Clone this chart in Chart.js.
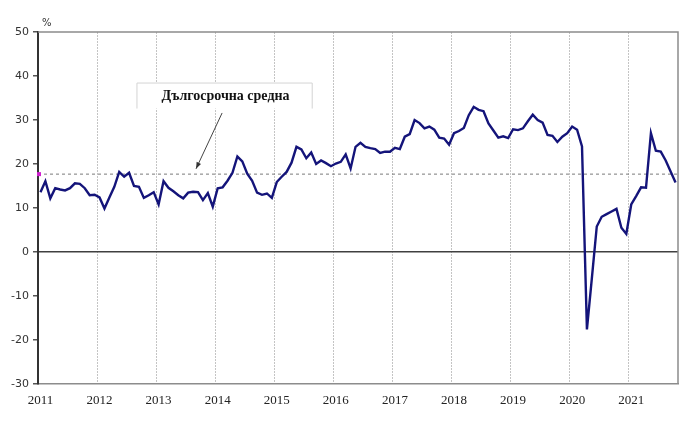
<!DOCTYPE html>
<html>
<head>
<meta charset="utf-8">
<script src="https://cdn.jsdelivr.net/npm/chart.js@4"></script>
<style>
  html, body { margin: 0; padding: 0; background: #fff; }
  #wrap { width: 700px; height: 425px; }
</style>
</head>
<body>
<div id="wrap"><canvas id="chart" width="700" height="425"></canvas></div>
<script>
const years = ["2011", "2012", "2013", "2014", "2015", "2016", "2017", "2018", "2019", "2020", "2021"];
const monthsInLastYear = 10;

// monthly values, %, Jan 2011 .. Oct 2021
const values2011 = [13.6, 16.1, 12.2, 14.5, 14.2, 14.0, 14.5, 15.6, 15.5, 14.5, 12.9, 13.0];
const values2012 = [12.4, 9.9, 12.4, 14.8, 18.2, 17.1, 18.0, 15.0, 14.8, 12.3, 12.9, 13.6];
const values2013 = [10.8, 16.1, 14.6, 13.8, 12.9, 12.2, 13.5, 13.7, 13.6, 11.8, 13.4, 10.3];
const values2014 = [14.5, 14.7, 16.2, 18.0, 21.7, 20.6, 17.8, 16.2, 13.5, 13.0, 13.3, 12.3];
const values2015 = [15.9, 17.1, 18.2, 20.3, 23.9, 23.3, 21.3, 22.6, 20.0, 20.8, 20.2, 19.5];
const values2016 = [20.1, 20.5, 22.2, 19.0, 23.9, 24.8, 23.9, 23.6, 23.4, 22.5, 22.8, 22.8];
const values2017 = [23.7, 23.4, 26.2, 26.8, 30.0, 29.3, 28.1, 28.5, 27.8, 26.0, 25.8, 24.4];
const values2018 = [27.0, 27.5, 28.2, 31.1, 33.0, 32.3, 32.0, 29.2, 27.6, 26.0, 26.3, 25.9];
const values2019 = [27.9, 27.7, 28.1, 29.7, 31.2, 30.0, 29.4, 26.6, 26.4, 25.0, 26.2, 27.0];
const values2020 = [28.5, 27.8, 24.0, -17.6, -6.0, 5.8, 8.0, 8.6, 9.2, 9.8, 5.5, 4.1];
const values2021 = [10.8, 12.7, 14.7, 14.6, 27.0, 23.0, 22.8, 20.8, 18.3, 15.8];

const longTermAvg = 17.7;
const avgLabel = "Дългосрочна средна";

const yMin = -30;
const yMax = 50;
const yStep = 10;

const series = [].concat(values2011, values2012, values2013, values2014, values2015,
  values2016, values2017, values2018, values2019, values2020, values2021);

const labels = [];
years.forEach((y, yi) => {
  const n = yi === years.length - 1 ? monthsInLastYear : 12;
  for (let m = 1; m <= n; m++) labels.push(y + "-" + String(m).padStart(2, "0"));
});

// label box and arrow, in data units (category index, %)
const note = {
  box: { x0: 19.6, x1: 55.2, y0: 38.4, y1: 32.6 },
  text: { x: 37.6, y: 35.3 },
  arrowFrom: { x: 36.9, y: 31.6 },
  arrowTo: { x: 31.6, y: 18.9 },
};

// ── Extras drawn on the chart ──

const extras = {
  id: "extras",
  beforeDatasetsDraw(chart) {
    const { ctx, chartArea: a, scales } = chart;
    const yAvg = scales.y.getPixelForValue(longTermAvg);

    ctx.save();
    // frame, top and right
    ctx.strokeStyle = "#8c8c8c";
    ctx.lineWidth = 1.5;
    ctx.beginPath();
    ctx.moveTo(a.left, a.top);
    ctx.lineTo(a.right, a.top);
    ctx.lineTo(a.right, a.bottom);
    ctx.stroke();

    // long-term average
    ctx.strokeStyle = "#7a7a7a";
    ctx.lineWidth = 1;
    ctx.setLineDash([3, 3]);
    ctx.beginPath();
    ctx.moveTo(a.left, yAvg);
    ctx.lineTo(a.right, yAvg);
    ctx.stroke();
    ctx.setLineDash([]);
    ctx.fillStyle = "#d020d0";
    ctx.fillRect(a.left - 1, yAvg - 2, 4, 4);
    ctx.restore();
  },
  afterDraw(chart) {
    const { ctx, chartArea: a, scales } = chart;
    const px = (v) => scales.x.getPixelForValue(v);
    const py = (v) => scales.y.getPixelForValue(v);

    ctx.save();
    // % unit
    ctx.fillStyle = "#333";
    ctx.font = "10px 'DejaVu Sans'";
    ctx.textAlign = "left";
    ctx.textBaseline = "middle";
    ctx.fillText("%", a.left + 4, a.top - 9);

    // label box
    const bx0 = px(note.box.x0), bx1 = px(note.box.x1);
    const by0 = py(note.box.y0), by1 = py(note.box.y1);
    ctx.fillStyle = "#fff";
    ctx.fillRect(bx0, by0, bx1 - bx0, by1 - by0);
    ctx.strokeStyle = "#d4d4d4";
    ctx.lineWidth = 1;
    ctx.beginPath();
    ctx.moveTo(bx0, by1);
    ctx.lineTo(bx0, by0);
    ctx.lineTo(bx1, by0);
    ctx.lineTo(bx1, by1);
    ctx.stroke();

    ctx.fillStyle = "#111";
    ctx.font = "bold 14px 'Liberation Serif'";
    ctx.textAlign = "center";
    ctx.fillText(avgLabel, px(note.text.x), py(note.text.y));

    // arrow
    const x1 = px(note.arrowFrom.x), y1 = py(note.arrowFrom.y);
    const x2 = px(note.arrowTo.x), y2 = py(note.arrowTo.y);
    ctx.strokeStyle = "#444";
    ctx.lineWidth = 1;
    ctx.beginPath();
    ctx.moveTo(x1, y1);
    ctx.lineTo(x2, y2);
    ctx.stroke();
    const ang = Math.atan2(y2 - y1, x2 - x1);
    ctx.fillStyle = "#333";
    ctx.beginPath();
    ctx.moveTo(x2, y2);
    ctx.lineTo(x2 - 7 * Math.cos(ang - 0.35), y2 - 7 * Math.sin(ang - 0.35));
    ctx.lineTo(x2 - 7 * Math.cos(ang + 0.35), y2 - 7 * Math.sin(ang + 0.35));
    ctx.closePath();
    ctx.fill();
    ctx.restore();
  },
};

// ── Chart ──

new Chart(document.getElementById("chart"), {
  type: "line",
  data: {
    labels,
    datasets: [
      {
        label: "Series",
        data: series,
        borderColor: "#14147a",
        backgroundColor: "transparent",
        borderWidth: 2.4,
        pointRadius: 0,
        tension: 0,
        fill: false,
      },
    ],
  },
  options: {
    responsive: false,
    animation: false,
    events: [],
    layout: { padding: { top: 32, right: 22, left: 0, bottom: 0 } },
    plugins: {
      legend: { display: false },
      tooltip: { enabled: false },
    },
    scales: {
      x: {
        type: "category",
        offset: true,
        afterFit: (s) => { s.height = 41; },
        grid: {
          offset: true,
          drawTicks: false,
          lineWidth: 1,
          color: (c) => (c.index % 12 === 0 ? "#c4c4c4" : "transparent"),
        },
        border: { display: true, color: "#8c8c8c", width: 1.5, dash: [2, 1] },
        ticks: {
          autoSkip: false,
          maxRotation: 0,
          padding: 9,
          color: "#222",
          font: { family: "'Liberation Serif'", size: 13 },
          callback: (v, i) => (i % 12 === 0 ? labels[i].slice(0, 4) : ""),
        },
      },
      y: {
        min: yMin,
        max: yMax,
        afterFit: (s) => { s.width = 38; },
        grid: {
          drawTicks: true,
          tickLength: 5,
          lineWidth: 1.5,
          color: (c) => (c.tick && c.tick.value === 0 ? "#404040" : "transparent"),
          tickColor: "#555",
        },
        border: { display: true, color: "#333", width: 2 },
        ticks: {
          stepSize: yStep,
          padding: 4,
          color: "#333",
          font: { family: "'DejaVu Sans'", size: 11 },
        },
      },
    },
  },
  plugins: [extras],
});
</script>
</body>
</html>
